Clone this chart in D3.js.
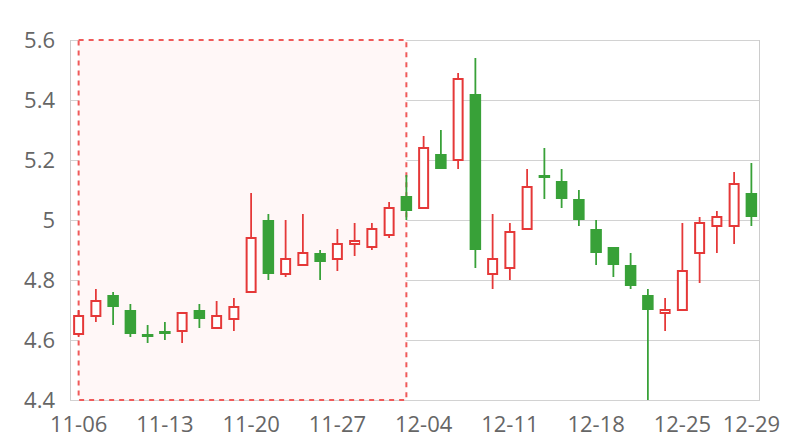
<!DOCTYPE html>
<html>
<head>
<meta charset="utf-8">
<script src="https://cdn.jsdelivr.net/npm/d3@7/dist/d3.min.js"></script>
<style>
  html, body { margin: 0; padding: 0; background: #fff; }
  svg { display: block; }
  text { font-family: "Open Sans", "Noto Sans", sans-serif; }
</style>
</head>
<body>
<svg id="chart" width="800" height="440"></svg>
<script>
// ---- data ----
const dates = [
  "11-06","11-07","11-08","11-09","11-10",
  "11-13","11-14","11-15","11-16","11-17",
  "11-20","11-21","11-22","11-23","11-24",
  "11-27","11-28","11-29","11-30","12-01",
  "12-04","12-05","12-06","12-07","12-08",
  "12-11","12-12","12-13","12-14","12-15",
  "12-18","12-19","12-20","12-21","12-22",
  "12-25","12-26","12-27","12-28","12-29"
];
const openVals  = [4.62,4.68,4.75,4.70,4.62, 4.63,4.63,4.70,4.64,4.67, 4.76,5.00,4.82,4.85,4.89, 4.87,4.92,4.91,4.95,5.08, 5.04,5.22,5.20,5.42,4.82, 4.84,4.97,5.15,5.13,5.07, 4.97,4.91,4.85,4.75,4.69, 4.70,4.89,4.98,4.98,5.09];
const closeVals = [4.68,4.73,4.71,4.62,4.61, 4.62,4.69,4.67,4.68,4.71, 4.94,4.82,4.87,4.89,4.86, 4.92,4.93,4.97,5.04,5.03, 5.24,5.17,5.47,4.90,4.87, 4.96,5.11,5.14,5.07,5.00, 4.89,4.85,4.78,4.70,4.70, 4.83,4.99,5.01,5.12,5.01];
const lowVals   = [4.61,4.66,4.65,4.61,4.59, 4.60,4.59,4.64,4.64,4.63, 4.76,4.80,4.81,4.85,4.80, 4.83,4.88,4.90,4.94,5.00, 5.04,5.17,5.17,4.84,4.77, 4.80,4.97,5.07,5.04,4.98, 4.85,4.81,4.77,4.40,4.63, 4.70,4.79,4.89,4.92,4.98];
const highVals  = [4.70,4.77,4.76,4.72,4.65, 4.66,4.69,4.72,4.73,4.74, 5.09,5.02,5.00,5.02,4.90, 4.97,4.99,4.99,5.06,5.15, 5.28,5.30,5.49,5.54,5.02, 4.99,5.17,5.24,5.17,5.10, 5.00,4.91,4.89,4.77,4.74, 4.99,5.01,5.03,5.16,5.19];
const yTicks = [4.4, 4.6, 4.8, 5.0, 5.2, 5.4, 5.6];
const yTickLabels = ["4.4", "4.6", "4.8", "5", "5.2", "5.4", "5.6"];
const xTickLabels = ["11-06","11-13","11-20","11-27","12-04","12-11","12-18","12-25","12-29"];
const markAreaRange = ["11-06", "12-01"];

// ---- layout ----
const plotLeft = 70, plotRight = 760, plotTop = 40, plotBottom = 400;
const upColor = "#e53838", downColor = "#38a138";

const svg = d3.select("#chart");
const x = d3.scaleBand().domain(dates).range([plotLeft, plotRight]).padding(0);
const y = d3.scaleLinear().domain([4.4, 5.6]).range([plotBottom, plotTop]);
const cx = d => x(d) + x.bandwidth() / 2;

// grid lines
const grid = svg.append("g")
  .attr("transform", `translate(${plotLeft},0)`)
  .call(d3.axisLeft(y).tickValues(yTicks).tickSize(-(plotRight - plotLeft)).tickFormat(""));
grid.select(".domain").remove();
grid.selectAll(".tick line").attr("stroke", "#d2d2d2").attr("stroke-width", 1);

// vertical frame lines
svg.append("line").attr("x1", plotLeft + 0.5).attr("x2", plotLeft + 0.5).attr("y1", plotTop).attr("y2", plotBottom)
  .attr("stroke", "#cccccc");
svg.append("line").attr("x1", plotRight - 0.5).attr("x2", plotRight - 0.5).attr("y1", plotTop).attr("y2", plotBottom)
  .attr("stroke", "#cccccc");

// mark area
const mx0 = cx(markAreaRange[0]), mx1 = cx(markAreaRange[1]);
svg.append("rect")
  .attr("x", mx0).attr("y", y(5.6)).attr("width", mx1 - mx0).attr("height", y(4.4) - y(5.6))
  .attr("fill", "#fff7f7")
  .attr("stroke", "#f05a5a").attr("stroke-width", 2).attr("stroke-dasharray", "5,5");

// y labels
const yAxis = svg.append("g")
  .attr("transform", `translate(${plotLeft},0)`)
  .call(d3.axisLeft(y).tickValues(yTicks).tickSize(0).tickPadding(15)
    .tickFormat(d => yTickLabels[yTicks.indexOf(d)]));
yAxis.select(".domain").remove();
yAxis.selectAll("text").attr("fill", "#666").style("font-size", "22px")
  .style("font-family", "'Open Sans', 'Noto Sans', sans-serif");

// x labels
const xAxis = svg.append("g")
  .attr("transform", `translate(0,${plotBottom})`)
  .call(d3.axisBottom(x).tickValues(xTickLabels).tickSize(0).tickPadding(16));
xAxis.select(".domain").remove();
xAxis.selectAll("text").attr("fill", "#666").style("font-size", "22px")
  .style("font-family", "'Open Sans', 'Noto Sans', sans-serif");

// candles
const candles = dates.map((d, i) => ({
  d, o: openVals[i], c: closeVals[i], l: lowVals[i], h: highVals[i]
}));
const g = svg.append("g");
candles.forEach(k => {
  const up = k.c >= k.o;
  const col = up ? upColor : downColor;
  const xc = cx(k.d);
  g.append("line")
    .attr("x1", xc).attr("x2", xc)
    .attr("y1", y(k.h)).attr("y2", y(k.l))
    .attr("stroke", col).attr("stroke-width", 1.8);
  const yTop = y(Math.max(k.o, k.c)), yBot = y(Math.min(k.o, k.c));
  if (up) {
    const w = 9;
    g.append("rect")
      .attr("x", xc - w / 2).attr("y", yTop)
      .attr("width", w).attr("height", Math.max(1, yBot - yTop))
      .attr("fill", "#fff").attr("stroke", col).attr("stroke-width", 2);
  } else {
    const w = 11.5;
    g.append("rect")
      .attr("x", xc - w / 2).attr("y", yTop)
      .attr("width", w).attr("height", Math.max(1.5, yBot - yTop))
      .attr("fill", col);
  }
});
</script>
</body>
</html>
